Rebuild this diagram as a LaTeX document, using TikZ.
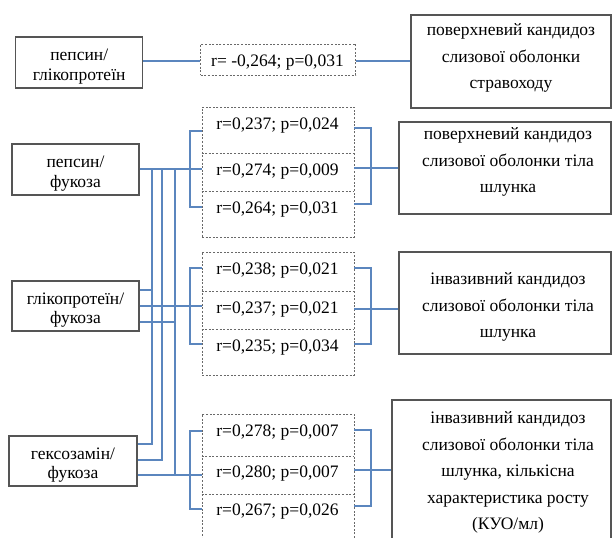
\documentclass[tikz,border=0pt]{standalone}
\usepackage{fontspec}
\setmainfont{Liberation Serif}
\definecolor{connc}{RGB}{91,134,190}
\definecolor{boxc}{RGB}{85,85,85}
\definecolor{dashc}{RGB}{105,105,105}
\tikzset{
  sbox/.style={draw=boxc, line width=1.1bp, rectangle, inner sep=0pt},
  dbox/.style={draw=dashc, line width=0.8bp, dash pattern=on 2bp off 1.6bp, rectangle, inner sep=0pt},
  ddiv/.style={draw=dashc, line width=0.8bp, dash pattern=on 2bp off 1.6bp},
  conn/.style={draw=connc, line width=1.1bp},
  ltxt/.style={align=center, font=\fontsize{17.5bp}{19.5bp}\selectfont, inner sep=0pt, yshift=-2.5bp},
  rtxt/.style={align=center, font=\fontsize{17.5bp}{26.5bp}\selectfont, inner sep=0pt, yshift=-2bp},
  vtxt/.style={font=\fontsize{17.5bp}{20bp}\selectfont, inner sep=0pt, yshift=-2.5bp},
}
\begin{document}
\begin{tikzpicture}[x=1bp,y=-1bp]
\useasboundingbox (0,0) rectangle (612,538);
\fill[white] (0,0) rectangle (612,538);
\clip (0,0) rectangle (612,538);

% left boxes
\node[sbox, minimum width=127bp, minimum height=51bp] (A) at (79.2,62.5) {};
\node[ltxt] (At) at (79.2,64) {пепсин/\\глікопротеїн};
\node[sbox, minimum width=127bp, minimum height=51bp] (B) at (75.5,169.5) {};
\node[ltxt] (Bt) at (75.5,171) {пепсин/\\фукоза};
\node[sbox, minimum width=127bp, minimum height=50bp] (C) at (75.5,306) {};
\node[ltxt] (Ct) at (75.5,307.5) {глікопротеїн/\\фукоза};
\node[sbox, minimum width=128bp, minimum height=50bp] (D) at (73,461) {};
\node[ltxt] (Dt) at (73,462.5) {гексозамін/\\фукоза};

% dashed value boxes
\node[dbox, minimum width=155bp, minimum height=31bp] (D0) at (278.2,59.5) {};
\node[vtxt] (D0t) at (277.5,60.5) {r= -0,264; p=0,031};

\node[dbox, minimum width=152bp, minimum height=130bp] (G1) at (278,172) {};
\draw[ddiv] (G1.west |- 0,153) -- (G1.east |- 0,153);
\draw[ddiv] (G1.west |- 0,191) -- (G1.east |- 0,191);
\node[vtxt] (G1a) at (277.5,123) {r=0,237; p=0,024};
\node[vtxt] (G1b) at (277.5,169) {r=0,274; p=0,009};
\node[vtxt] (G1c) at (277.5,207) {r=0,264; p=0,031};

\node[dbox, minimum width=152bp, minimum height=123bp] (G2) at (278,313.5) {};
\draw[ddiv] (G2.west |- 0,291) -- (G2.east |- 0,291);
\draw[ddiv] (G2.west |- 0,329) -- (G2.east |- 0,329);
\node[vtxt] (G2a) at (277.5,268) {r=0,238; p=0,021};
\node[vtxt] (G2b) at (277.5,307) {r=0,237; p=0,021};
\node[vtxt] (G2c) at (277.5,345) {r=0,235; p=0,034};

\node[dbox, minimum width=152bp, minimum height=134bp] (G3) at (278,481) {};
\draw[ddiv] (G3.west |- 0,456) -- (G3.east |- 0,456);
\draw[ddiv] (G3.west |- 0,494) -- (G3.east |- 0,494);
\node[vtxt] (G3a) at (277.5,430) {r=0,278; p=0,007};
\node[vtxt] (G3b) at (277.5,471) {r=0,280; p=0,007};
\node[vtxt] (G3c) at (277.5,509) {r=0,267; p=0,026};

% right boxes
\node[sbox, minimum width=200bp, minimum height=93bp] (R1) at (511,61.5) {};
\node[rtxt] (R1t) at (511,56) {поверхневий кандидоз\\слизової оболонки\\стравоходу};
\node[sbox, minimum width=212bp, minimum height=92bp] (R2) at (505,168) {};
\node[rtxt] (R2t) at (508,160) {поверхневий кандидоз\\слизової оболонки тіла\\шлунка};
\node[sbox, minimum width=212bp, minimum height=102bp] (R3) at (505,303) {};
\node[rtxt] (R3t) at (508,305) {інвазивний кандидоз\\слизової оболонки тіла\\шлунка};
\node[sbox, minimum width=219bp, minimum height=152bp] (R4) at (501.5,476) {};
\node[rtxt] (R4t) at (508,470.5) {інвазивний кандидоз\\слизової оболонки тіла\\шлунка, кількісна\\характеристика росту\\(КУО/мл)};

% row 1
\draw[conn] (A.east |- 0,61) -- (D0.west |- 0,61);
\draw[conn] (D0.east |- 0,61) -- (R1.west |- 0,61);

% verticals from B
\coordinate (v1) at (152,169);
\coordinate (v2) at (162,169);
\coordinate (v3) at (175,169);
\draw[conn] (B.east |- 0,169) -- (G1.west |- 0,169);
\draw[conn] (v1) -- (152,444) -- (D.east |- 0,444);
\draw[conn] (v2) -- (162,460) -- (D.east |- 0,460);
\draw[conn] (v3) -- (175,475);

% group 1 brackets
\draw[conn] (G1.west |- 0,131) -- (190,131) -- (190,207) -- (G1.west |- 0,207);
\draw[conn] (G1.east |- 0,128) -- (371,128) -- (371,204) -- (G1.east |- 0,204);
\draw[conn] (G1.east |- 0,168) -- (R2.west |- 0,168);

% C lines
\draw[conn] (C.east |- 0,290) -- (152,290);
\draw[conn] (C.east |- 0,306) -- (G2.west |- 0,306);
\draw[conn] (C.east |- 0,322) -- (175,322);

% group 2 brackets
\draw[conn] (G2.west |- 0,268) -- (190,268) -- (190,344) -- (G2.west |- 0,344);
\draw[conn] (G2.east |- 0,268) -- (371,268) -- (371,344) -- (G2.east |- 0,344);
\draw[conn] (G2.east |- 0,309) -- (R3.west |- 0,309);

% D line to group 3
\draw[conn] (D.east |- 0,475) -- (G3.west |- 0,475);

% group 3 brackets
\draw[conn] (G3.west |- 0,431) -- (190,431) -- (190,509) -- (G3.west |- 0,509);
\draw[conn] (G3.east |- 0,430) -- (371,430) -- (371,506) -- (G3.east |- 0,506);
\draw[conn] (G3.east |- 0,470) -- (R4.west |- 0,470);
\end{tikzpicture}
\end{document}
